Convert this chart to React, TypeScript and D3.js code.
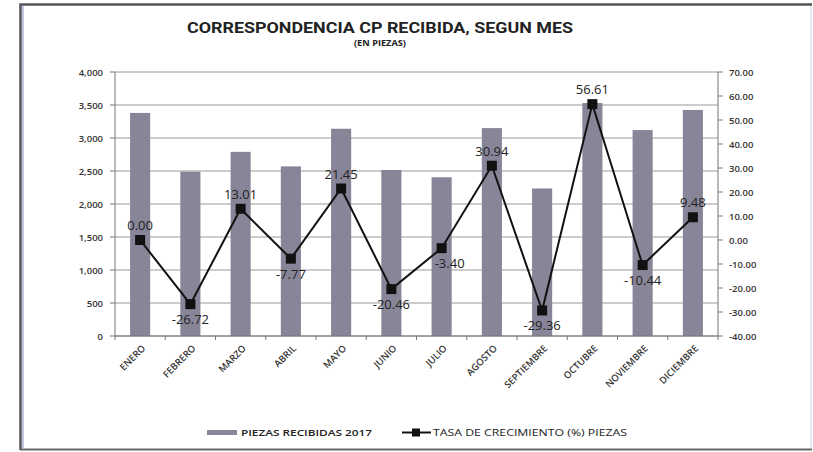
import React from "react";
import * as d3 from "d3";

const months = ["ENERO","FEBRERO","MARZO","ABRIL","MAYO","JUNIO","JULIO","AGOSTO","SEPTIEMBRE","OCTUBRE","NOVIEMBRE","DICIEMBRE"];
const piezas = [3380, 2490, 2790, 2570, 3140, 2515, 2405, 3150, 2235, 3530, 3120, 3425];
const tasa = [0.0, -26.72, 13.01, -7.77, 21.45, -20.46, -3.4, 30.94, -29.36, 56.61, -10.44, 9.48];
const labelBelow = [false, true, false, true, false, true, true, false, true, false, true, false];
const leftTicks = [0, 500, 1000, 1500, 2000, 2500, 3000, 3500, 4000];
const rightTicks = [-40, -30, -20, -10, 0, 10, 20, 30, 40, 50, 60, 70];

const M = { left: 115, right: 718, top: 72, bottom: 336 };
const font = "'Open Sans', 'DejaVu Sans', sans-serif";

export default function App() {
  const x = d3.scaleBand<string>().domain(months).range([M.left, M.right]).paddingInner(0.6).paddingOuter(0.3);
  const xc = (m: string) => (x(m) as number) + x.bandwidth() / 2;
  const step = (M.right - M.left) / months.length;
  const yL = d3.scaleLinear().domain([0, 4000]).range([M.bottom, M.top]);
  const yR = d3.scaleLinear().domain([-40, 70]).range([M.bottom, M.top]);
  const fmtL = d3.format(",");
  const f2 = d3.format(".2f");
  const fmtR = (v: number) => f2(v).replace("\u2212", "-");
  const line = d3.line<number>().x((_, i) => xc(months[i])).y((d) => yR(d));

  return (
    <svg width={813} height={452} style={{ position: "absolute", left: 0, top: 0, background: "#fff" }} fontFamily={font}>
      <rect x={0} y={0} width={813} height={452} fill="#fff" />
      {/* frame */}
      <path d="M20.5,450 L20.5,4.5 L812,4.5" fill="none" stroke="#555" strokeWidth={2.5} />
      <line x1={20} x2={812} y1={449.5} y2={449.5} stroke="#666" strokeWidth={2} />
      <line x1={23} x2={23} y1={6} y2={448} stroke="#8a8fd0" strokeWidth={1} />
      <line x1={811} x2={811} y1={6} y2={448} stroke="#c9d3ea" strokeWidth={1} />

      {/* title */}
      <text x={380} y={33} textAnchor="middle" fontSize={14} fontWeight={700} fill="#222" textLength={386} lengthAdjust="spacingAndGlyphs" fontFamily="'Liberation Sans Narrow', 'Roboto', sans-serif">CORRESPONDENCIA CP RECIBIDA, SEGUN MES</text>
      <text x={380} y={46} textAnchor="middle" fontSize={8} fontWeight={700} fill="#222" textLength={52} lengthAdjust="spacingAndGlyphs">(EN PIEZAS)</text>

      {/* gridlines */}
      {leftTicks.map((t) => (
        <line key={"g" + t} x1={M.left} x2={M.right} y1={yL(t)} y2={yL(t)} stroke="#9a9a9a" strokeWidth={1} />
      ))}

      {/* bars */}
      {piezas.map((v, i) => (
        <rect key={"b" + i} x={x(months[i])} y={yL(v)} width={x.bandwidth()} height={yL(0) - yL(v)} fill="#878597" />
      ))}

      {/* axes */}
      <line x1={M.left} x2={M.left} y1={M.top} y2={M.bottom} stroke="#777" />
      <line x1={M.right} x2={M.right} y1={M.top} y2={M.bottom} stroke="#777" />
      <line x1={M.left} x2={M.right} y1={M.bottom} y2={M.bottom} stroke="#777" />
      {leftTicks.map((t) => (
        <g key={"l" + t}>
          <line x1={M.left - 5} x2={M.left} y1={yL(t)} y2={yL(t)} stroke="#777" />
          <text x={103} y={yL(t) + 3.5} textAnchor="end" fontSize={9.5} fontWeight={600} fill="#333">{fmtL(t)}</text>
        </g>
      ))}
      {rightTicks.map((t) => (
        <g key={"r" + t}>
          <line x1={M.right} x2={M.right + 5} y1={yR(t)} y2={yR(t)} stroke="#777" />
          <text x={729} y={yR(t) + 3.5} textAnchor="start" fontSize={9.5} fontWeight={600} fill="#333">{fmtR(t)}</text>
        </g>
      ))}
      {d3.range(months.length + 1).map((i) => (
        <line key={"xt" + i} x1={M.left + i * step} x2={M.left + i * step} y1={M.bottom} y2={M.bottom + 4} stroke="#777" />
      ))}
      {months.map((m) => (
        <text key={"xl" + m} transform={`translate(${xc(m) + 6},${M.bottom + 13}) rotate(-45)`} textAnchor="end" fontSize={9.5} fontWeight={600} fill="#333">{m}</text>
      ))}

      {/* line */}
      <path d={line(tasa) as string} fill="none" stroke="#111" strokeWidth={2} />
      {tasa.map((v, i) => (
        <rect key={"m" + i} x={xc(months[i]) - 5} y={yR(v) - 5} width={10} height={10} fill="#111" />
      ))}
      {tasa.map((v, i) => (
        <text key={"dl" + i} x={xc(months[i]) + (i === 6 ? 8 : 0)} y={labelBelow[i] ? yR(v) + 20 : yR(v) - 10} textAnchor="middle" fontSize={13} fill="#222">{fmtR(v)}</text>
      ))}

      {/* legend */}
      <rect x={207} y={430} width={30} height={5} fill="#8a879a" />
      <text x={241} y={436} fontSize={9} fontWeight={600} fill="#222" textLength={131} lengthAdjust="spacingAndGlyphs">PIEZAS RECIBIDAS  2017</text>
      <line x1={402} x2={431} y1={432.5} y2={432.5} stroke="#111" strokeWidth={2} />
      <rect x={412} y={428.5} width={8} height={8} fill="#111" />
      <text x={433} y={436} fontSize={9} fill="#222" textLength={194} lengthAdjust="spacingAndGlyphs">TASA DE CRECIMIENTO  (%) PIEZAS</text>
    </svg>
  );
}
